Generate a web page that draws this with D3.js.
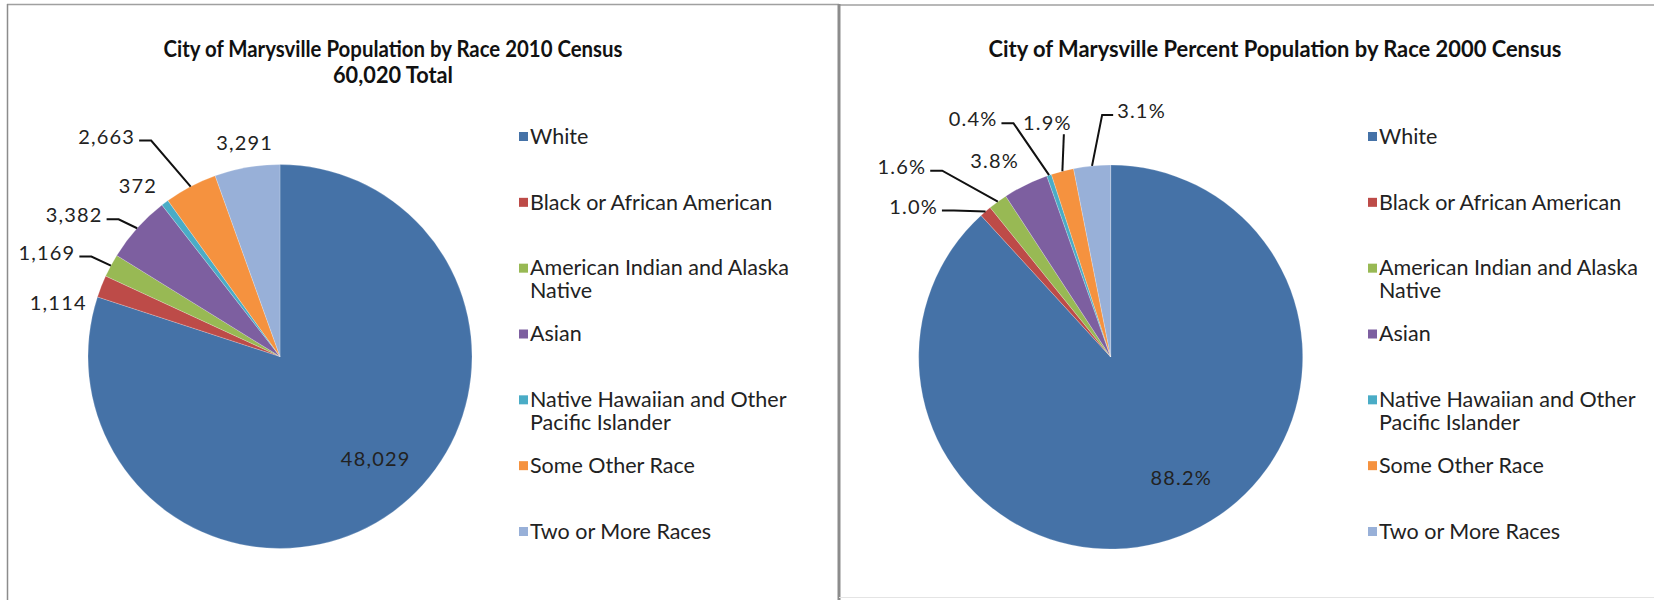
<!DOCTYPE html>
<html>
<head>
<meta charset="utf-8">
<script src="https://cdn.jsdelivr.net/npm/d3@7"></script>
<style>
  body { margin: 0; background: #fff; }
  svg { display: block; }
</style>
</head>
<body>
<svg id="chart" width="1655" height="600"></svg>
<script>
const categories = [
  "White",
  "Black or African American",
  "American Indian and Alaska Native",
  "Asian",
  "Native Hawaiian and Other Pacific Islander",
  "Some Other Race",
  "Two or More Races"
];
const legendLines = [
  ["White"],
  ["Black or African American"],
  ["American Indian and Alaska", "Native"],
  ["Asian"],
  ["Native Hawaiian and Other", "Pacific Islander"],
  ["Some Other Race"],
  ["Two or More Races"]
];
const pop2010 = [48029, 1114, 1169, 3382, 372, 2663, 3291];
const pct2000 = [88.2, 1.0, 1.6, 3.8, 0.4, 1.9, 3.1];

const colors = ["#4572a7", "#bd4b48", "#98b954", "#7d5fa0", "#4aacc6", "#f5923f", "#98b0d8"];

// label nudges from the slice's outer edge point, and where the leader line leaves the label
const offsets2010 = [[-17, -53], [-43, 16], [-64, -13], [-63, -13], [-27, -17], [-84, -50], [-2.5, -25]];
const leaders2010 = [null, null, "right", "right", null, "right", null];
const offsets2000 = [[1, -58], [-72, -5], [-96, -35], [-31, -24], [-76, -56], [-15, -48], [49.5, -55]];
const leaders2000 = [null, "right", "right", null, "right", "bottom", "left"];

const svg = d3.select("#chart");

// panel frames
svg.append("line").attr("x1", 7).attr("x2", 839).attr("y1", 4.5).attr("y2", 4.5)
  .attr("stroke", "#a0a0a0").attr("stroke-width", 1.5);
svg.append("line").attr("x1", 839).attr("x2", 1654).attr("y1", 5).attr("y2", 5)
  .attr("stroke", "#a0a0a0").attr("stroke-width", 1.5);
svg.append("line").attr("x1", 7.5).attr("x2", 7.5).attr("y1", 4).attr("y2", 600)
  .attr("stroke", "#8c8c8c").attr("stroke-width", 1.5);
svg.append("line").attr("x1", 839).attr("x2", 839).attr("y1", 4).attr("y2", 600)
  .attr("stroke", "#8c8c8c").attr("stroke-width", 3);
svg.append("line").attr("x1", 839).attr("x2", 1654).attr("y1", 597.5).attr("y2", 597.5)
  .attr("stroke", "#e4e4e4").attr("stroke-width", 1);

function drawPanel(cfg) {
  const g = svg.append("g");

  // title, squeezed to the narrow Calibri-like width of the original
  cfg.title.forEach((t, i) => {
    const tt = g.append("text")
      .attr("x", cfg.titleX)
      .attr("y", 57 + i * 26)
      .attr("text-anchor", "middle")
      .attr("font-family", "Lato, sans-serif")
      .attr("font-weight", "bold")
      .attr("font-size", "22px")
      .attr("fill", "#111")
      .text(t);
    if (cfg.titleWidths[i]) {
      tt.attr("textLength", cfg.titleWidths[i]).attr("lengthAdjust", "spacingAndGlyphs");
    }
  });

  const pie = d3.pie().sort(null).value(d => d);
  const arcs = pie(cfg.values);
  const arc = d3.arc().innerRadius(0).outerRadius(cfg.r);

  const pieG = g.append("g").attr("transform", `translate(${cfg.cx}, ${cfg.cy})`);

  pieG.selectAll("path")
    .data(arcs)
    .enter()
    .append("path")
    .attr("d", arc)
    .attr("fill", (d, i) => colors[i])
    .attr("stroke", "#ffffff")
    .attr("stroke-opacity", 0.35)
    .attr("stroke-width", 0.6);

  const edge = d => {
    const a = (d.startAngle + d.endAngle) / 2;
    return [cfg.r * Math.sin(a), -cfg.r * Math.cos(a)];
  };

  arcs.forEach((d, i) => {
    const [ax, ay] = edge(d);
    const lx = ax + cfg.offsets[i][0];
    const ly = ay + cfg.offsets[i][1];
    const label = pieG.append("text")
      .attr("x", lx)
      .attr("y", ly)
      .attr("dy", "0.36em")
      .attr("text-anchor", "middle")
      .attr("font-family", "Lato, sans-serif")
      .attr("font-size", "20px")
      .attr("letter-spacing", "1.2px")
      .attr("fill", "#222")
      .text(cfg.format(d.data));

    const side = cfg.leaders[i];
    if (!side) return;
    const w = label.node().getComputedTextLength();
    let pts;
    if (side === "right") {
      const x0 = lx + w / 2;
      pts = [[x0 + 4, ly + 4], [x0 + 16, ly + 4], [ax, ay]];
    } else if (side === "left") {
      const x0 = lx - w / 2;
      pts = [[x0 - 4, ly + 4], [x0 - 15, ly + 4], [ax, ay]];
    } else {
      pts = [[ax + 1.5, ly + 11], [ax, ay]];
    }
    pieG.append("path")
      .attr("d", d3.line()(pts))
      .attr("fill", "none")
      .attr("stroke", "#111")
      .attr("stroke-width", 2);
  });

  // legend
  const ly = d3.scalePoint().domain(categories).range([136, 531]);
  const legend = g.append("g").attr("transform", `translate(${cfg.legendX}, 0)`);
  categories.forEach((c, i) => {
    legend.append("rect")
      .attr("x", 0)
      .attr("y", ly(c) - 4)
      .attr("width", 9)
      .attr("height", 9)
      .attr("fill", colors[i]);
    const t = legend.append("text")
      .attr("x", 11)
      .attr("y", ly(c))
      .attr("font-family", "Lato, sans-serif")
      .attr("font-size", "21.5px")
      .attr("fill", "#222");
    legendLines[i].forEach((line, j) => {
      t.append("tspan").attr("x", 11).attr("dy", j === 0 ? "0.36em" : 23).text(line);
    });
  });
}

drawPanel({
  title: ["City of Marysville Population by Race 2010 Census", "60,020 Total"],
  titleWidths: [459, 120],
  titleX: 393,
  values: pop2010,
  format: d3.format(","),
  cx: 280, cy: 356.5, r: 192,
  offsets: offsets2010,
  leaders: leaders2010,
  legendX: 519
});

drawPanel({
  title: ["City of Marysville Percent Population by Race 2000 Census"],
  titleWidths: [573],
  titleX: 1275,
  values: pct2000,
  format: d => d.toFixed(1) + "%",
  cx: 1110.7, cy: 357, r: 192,
  offsets: offsets2000,
  leaders: leaders2000,
  legendX: 1368
});
</script>
</body>
</html>
